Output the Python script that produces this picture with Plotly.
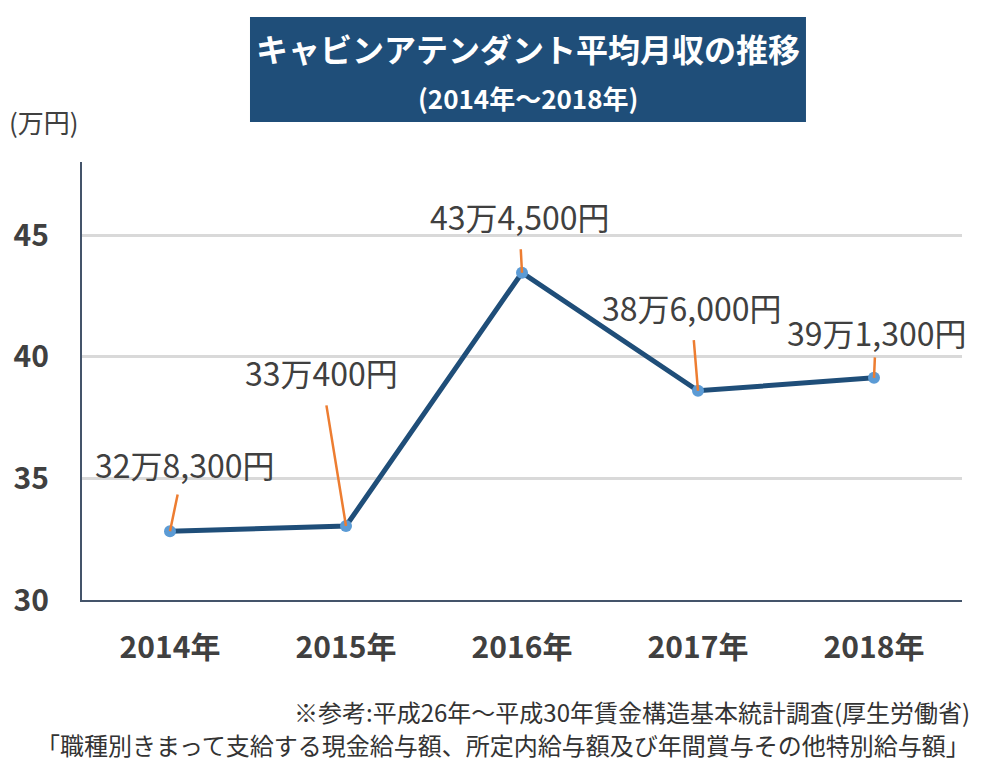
import plotly.graph_objects as go

years = ["2014年", "2015年", "2016年", "2017年", "2018年"]
salary = [32.83, 33.04, 43.45, 38.60, 39.13]  # 万円
y_ticks = [30, 35, 40, 45]

# label offsets (px) relative to point, and gap between label and leader line
label_ax = [14, -25, -3, -7, 2]
label_ay = [-67, -154, -57, -84, -46]
label_gap = [7, 10, 10, 10, 2]


def fmt(v):
    yen = int(round(v * 10000))
    man = yen // 10000
    rest = yen % 10000
    return f"{man}万{rest:,}円"


FONT = "Noto Sans CJK JP"
TXT = "#404040"

fig = go.Figure()
fig.add_trace(go.Scatter(
    x=years, y=salary, mode="lines+markers",
    line=dict(color="#1F4E79", width=5),
    marker=dict(color="#5B9BD5", size=12),
    hoverinfo="skip", showlegend=False,
))

for i, (x, v) in enumerate(zip(years, salary)):
    fig.add_annotation(
        x=x, y=v, xref="x", yref="y", text=fmt(v),
        showarrow=True, arrowhead=0, arrowwidth=2.5, arrowcolor="#ED7D31",
        ax=label_ax[i], ay=label_ay[i], axref="pixel", ayref="pixel",
        startstandoff=label_gap[i], standoff=0, borderpad=0,
        font=dict(family=FONT, size=32, color=TXT),
    )

# title box
fig.add_shape(type="rect", xref="paper", yref="paper",
              x0=0.1909, x1=0.8227, y0=1.0913, y1=1.3311,
              fillcolor="#1F4E79", line=dict(width=0), layer="below")
fig.add_annotation(xref="paper", yref="paper", x=0.5068, y=1.2603,
                   xanchor="center", yanchor="middle",
                   text="<b>キャビンアテンダント平均月収の推移</b>", showarrow=False,
                   font=dict(family=FONT, size=32, color="white"))
fig.add_annotation(xref="paper", yref="paper", x=0.5068, y=1.1484,
                   xanchor="center", yanchor="middle",
                   text="<b>(2014年～2018年)</b>", showarrow=False,
                   font=dict(family=FONT, size=26, color="white"))
fig.add_annotation(xref="paper", yref="paper", x=-0.0432, y=1.0936,
                   xanchor="center", yanchor="middle",
                   text="(万円)", showarrow=False,
                   font=dict(family=FONT, size=26, color=TXT))
fig.add_annotation(xref="paper", yref="paper", x=1.0114, y=-0.2557,
                   xanchor="right", yanchor="middle",
                   text="※参考:平成26年～平成30年賃金構造基本統計調査(厚生労働省)",
                   showarrow=False, font=dict(family=FONT, size=24, color="#333333"))
fig.add_annotation(xref="paper", yref="paper", x=1.0114, y=-0.3288,
                   xanchor="right", yanchor="middle",
                   text="「職種別きまって支給する現金給与額、所定内給与額及び年間賞与その他特別給与額」",
                   showarrow=False, font=dict(family=FONT, size=24, color="#333333"))

fig.update_layout(
    width=991, height=767,
    margin=dict(l=74, r=37, t=154, b=175),
    paper_bgcolor="white", plot_bgcolor="white",
    font=dict(family=FONT, color=TXT),
)
fig.update_xaxes(
    type="category", range=[-0.5, 4.5], automargin=False,
    showline=True, linecolor="#44546A", linewidth=2,
    showgrid=False, ticks="", ticklabelstandoff=20,
    tickfont=dict(family=FONT, size=30, color=TXT, weight="bold"),
)
fig.update_yaxes(
    range=[30, 48], tickvals=y_ticks, automargin=False,
    showline=True, linecolor="#44546A", linewidth=2,
    showgrid=True, gridcolor="#D9D9D9", gridwidth=3,
    zeroline=False, ticks="", ticklabelstandoff=25,
    tickfont=dict(family=FONT, size=30, color=TXT, weight="bold"),
)

fig.write_html("out.html")
